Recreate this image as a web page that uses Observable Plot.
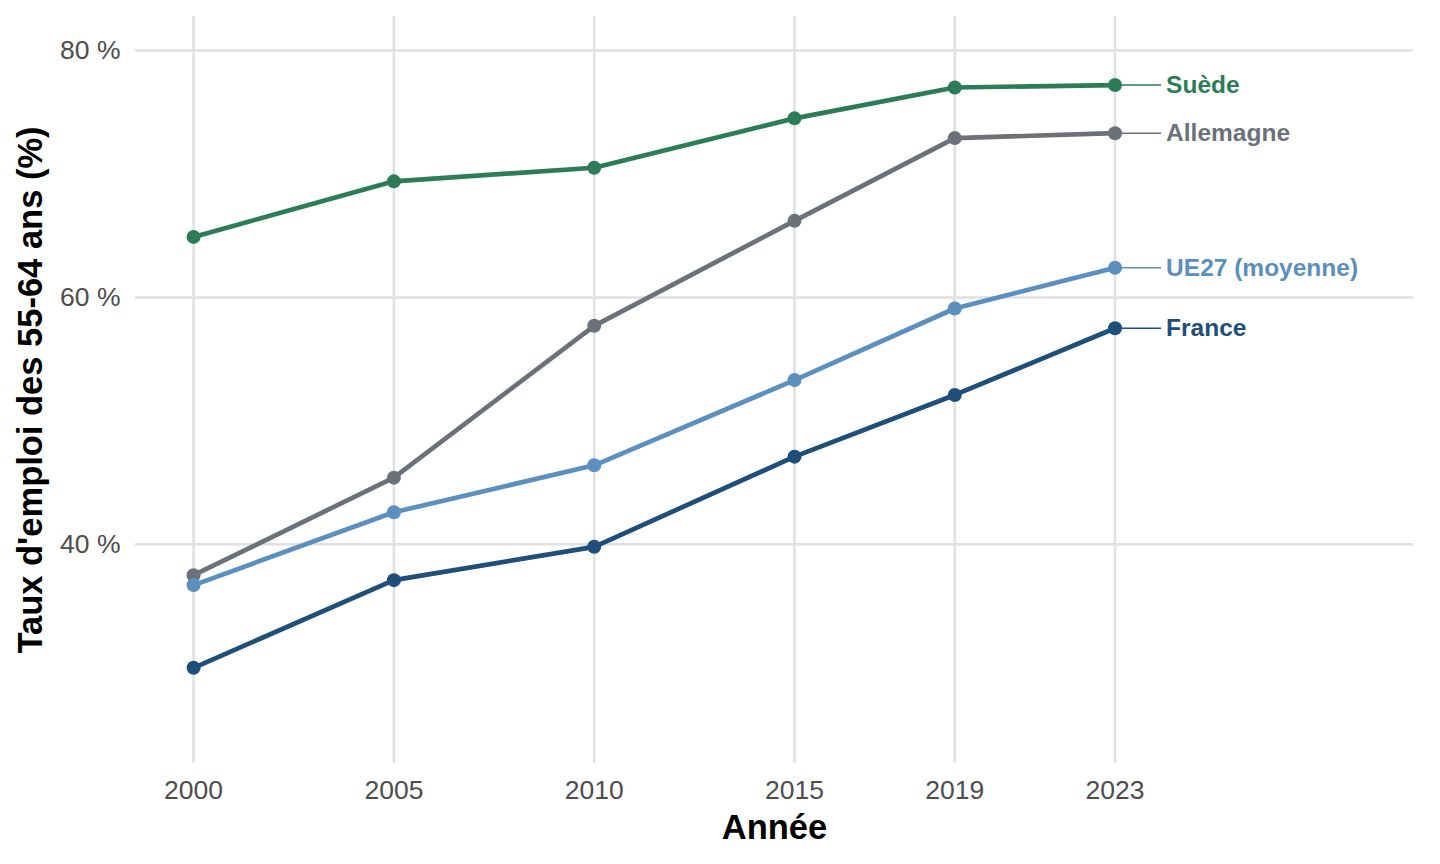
<!DOCTYPE html>
<html><head><meta charset="utf-8">
<script src="https://cdn.jsdelivr.net/npm/d3@7"></script>
<script src="https://cdn.jsdelivr.net/npm/@observablehq/plot@0.6"></script>
<style>
html,body{margin:0;padding:0;background:#fff;}
#chart{width:1440px;height:864px;}
</style>
</head><body><div id="chart"></div>
<script>
const years = [2000, 2005, 2010, 2015, 2019, 2023];
const seriesNames = ["Suède", "Allemagne", "UE27 (moyenne)", "France"];
const suede = [64.9, 69.4, 70.5, 74.5, 77.0, 77.2];
const allemagne = [37.5, 45.4, 57.7, 66.2, 72.9, 73.3];
const ue27 = [36.7, 42.6, 46.4, 53.3, 59.1, 62.4];
const france = [30.0, 37.1, 39.8, 47.1, 52.1, 57.5];
const seriesColors = ["#2c7c58", "#6b7079", "#5b8fbe", "#1f4e79"];
const yTicks = [40, 60, 80];
const labelNudge = 1.15; // years, like ggrepel nudge_x

const values = [suede, allemagne, ue27, france];
const data = [];
seriesNames.forEach((s, i) => years.forEach((y, j) => data.push({serie: s, year: y, value: values[i][j]})));
const last = data.filter(d => d.year === years[years.length - 1]);

const font = "Liberation Sans, Arial, Helvetica, sans-serif";

const plot = Plot.plot({
  width: 1440,
  height: 864,
  marginLeft: 135,
  marginRight: 27,
  marginTop: 16,
  marginBottom: 101,
  style: {fontFamily: font, background: "#fff"},
  x: {domain: [1998.55, 2030.45]},
  y: {domain: [22.25, 82.75]},
  color: {domain: seriesNames, range: seriesColors},
  marks: [
    Plot.gridX(years, {stroke: "#e0e0e0", strokeOpacity: 1, strokeWidth: 2.5}),
    Plot.gridY(yTicks, {stroke: "#e0e0e0", strokeOpacity: 1, strokeWidth: 2.5}),
    Plot.axisX(years, {tickSize: 0, tickPadding: 17, fontSize: 26.5, fill: "#4d4d4d", tickFormat: d => String(d), label: null}),
    Plot.axisY(yTicks, {tickSize: 0, tickPadding: 15, fontSize: 26.5, fill: "#4d4d4d", tickFormat: d => d + " %", label: null}),
    Plot.line(data, {x: "year", y: "value", z: "serie", stroke: "serie", strokeWidth: 4.7}),
    Plot.dot(data, {x: "year", y: "value", fill: "serie", r: 7}),
    Plot.link(last, {x1: "year", x2: d => d.year + labelNudge, y1: "value", y2: "value", stroke: "serie", strokeWidth: 1.5}),
    Plot.text(last, {x: d => d.year + labelNudge, y: "value", text: "serie", fill: "serie", textAnchor: "start", dx: 5, fontSize: 24.5, fontWeight: "bold"}),
    Plot.text(["Année"], {frameAnchor: "bottom", textAnchor: "middle", dy: 75, fontSize: 34.5, fontWeight: "bold", fill: "#000"}),
    Plot.text(["Taux d'emploi des 55-64 ans (%)"], {frameAnchor: "left", textAnchor: "middle", dx: -105, rotate: -90, fontSize: 34.5, fontWeight: "bold", fill: "#000"})
  ]
});
document.getElementById("chart").appendChild(plot);
</script>
</body></html>
